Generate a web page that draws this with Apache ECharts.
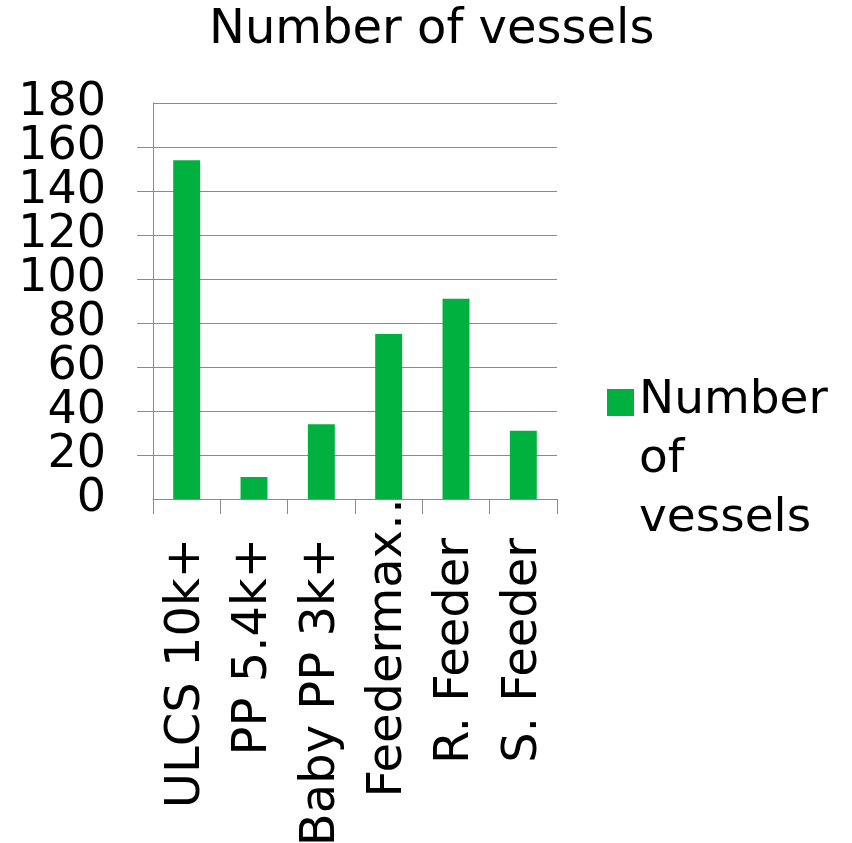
<!DOCTYPE html>
<html>
<head>
<meta charset="utf-8">
<script src="https://cdn.jsdelivr.net/npm/echarts@6/dist/echarts.min.js"></script>
<style>
  html, body { margin: 0; padding: 0; background: #fff; }
  #chart { width: 852px; height: 843px; }
</style>
</head>
<body>
<div id="chart"></div>
<script>
// Vessel classes and fleet counts
const categories = ['ULCS 10k+', 'PP 5.4k+', 'Baby PP 3k+', 'Feedermax…', 'R. Feeder', 'S. Feeder'];
const vesselCounts = [154, 10, 34, 75, 91, 31];
const seriesName = 'Number of vessels';
const yTicks = { min: 0, max: 180, step: 20 };

const FONT = 'DejaVu Sans';
const GRID_COLOR = '#8a8a8a';
const BAR_COLOR = '#00B13F';

// Legend marker: a 27px square sitting beside the first of three text lines
// (the invisible end points stretch the icon box to the full text height).
const LEGEND_ICON = 'path://M0,18h27v27h-27Z M0,0L0,0 M0,177L0,177';

const yLabelStyle = { margin: 47, fontFamily: FONT, fontSize: 46, color: '#000' };

const chart = echarts.init(document.getElementById('chart'), null, { renderer: 'canvas' });

chart.setOption({
  animation: false,
  backgroundColor: '#ffffff',
  title: {
    text: seriesName,
    left: 209,
    top: 7,
    padding: 0,
    textStyle: { fontFamily: FONT, fontSize: 48, fontWeight: 'normal', color: '#000' }
  },
  legend: {
    data: [seriesName],
    left: 607,
    top: 371,
    padding: 0,
    itemWidth: 27,
    itemHeight: 177,
    icon: LEGEND_ICON,
    formatter: () => 'Number\nof\nvessels',
    textStyle: { fontFamily: FONT, fontSize: 47, color: '#000', lineHeight: 59 }
  },
  grid: {
    left: 153, right: 295, top: 103, bottom: 344,
    containLabel: false,
    outerBoundsMode: 'none'
  },
  xAxis: {
    type: 'category',
    data: categories,
    boundaryGap: true,
    axisLine: { show: true, lineStyle: { color: GRID_COLOR, width: 1 } },
    axisTick: { show: true, length: 15, lineStyle: { color: GRID_COLOR } },
    axisLabel: {
      interval: 0,
      rotate: 90,
      margin: -17,
      hideOverlap: false,
      fontFamily: FONT,
      fontSize: 48,
      color: '#000',
      formatter: (v) => (v.endsWith('…') ? '{t|' + v + '}' : '{n|' + v + '}'),
      rich: {
        n: { fontFamily: FONT, fontSize: 48, color: '#000', padding: [0, 56, 0, 0] },
        t: { fontFamily: FONT, fontSize: 48, color: '#000', padding: [0, 0, 0, 0] }
      }
    },
    splitLine: { show: false }
  },
  yAxis: [
    {
      // main value axis: line, ticks, gridlines and the inner tick labels
      type: 'value',
      min: yTicks.min,
      max: yTicks.max,
      interval: yTicks.step,
      position: 'left',
      axisLine: { show: true, lineStyle: { color: GRID_COLOR, width: 1 } },
      axisTick: { show: true, length: 16, lineStyle: { color: GRID_COLOR } },
      axisLabel: Object.assign({ showMinLabel: false, showMaxLabel: false }, yLabelStyle),
      splitLine: { show: true, lineStyle: { color: GRID_COLOR, width: 1 } }
    },
    {
      // same scale, carrying only the end labels (0 and 180)
      type: 'value',
      min: yTicks.min,
      max: yTicks.max,
      interval: yTicks.step,
      position: 'left',
      offset: 0,
      axisLine: { show: false },
      axisTick: { show: false },
      splitLine: { show: false },
      axisLabel: Object.assign({
        showMinLabel: true,
        showMaxLabel: true,
        formatter: (v) => (v === yTicks.min || v === yTicks.max ? String(v) : '')
      }, yLabelStyle)
    }
  ],
  series: [{
    name: seriesName,
    type: 'bar',
    yAxisIndex: 0,
    data: vesselCounts,
    barCategoryGap: '60%',
    itemStyle: { color: BAR_COLOR }
  }]
});
</script>
</body>
</html>
